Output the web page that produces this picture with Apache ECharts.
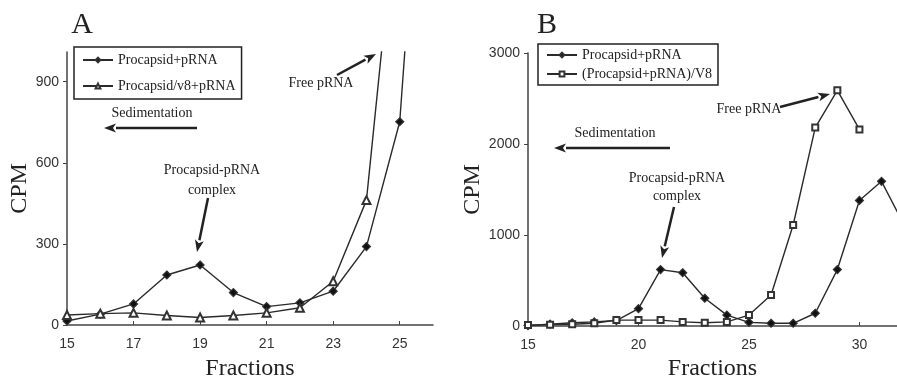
<!DOCTYPE html>
<html>
<head>
<meta charset="utf-8">
<script src="https://cdn.jsdelivr.net/npm/echarts@6/dist/echarts.min.js"></script>
<style>
  html, body { margin: 0; padding: 0; background: #fff; }
  #chart { width: 897px; height: 386px; }
</style>
</head>
<body>
<div id="chart"></div>
<script>
// panel A
const fractionsA = [15, 16, 17, 18, 19, 20, 21, 22, 23, 24, 25, 26];
const procapsidA = [15, 40, 78, 185, 222, 120, 68, 82, 125, 290, 752, 2450];
const v8A = [37, 42, 45, 35, 28, 35, 45, 64, 162, 462, 1675];
const xTicksA = [15, 17, 19, 21, 23, 25];
const yTicksA = [0, 300, 600, 900];

// panel B
const fractionsB = [15, 16, 17, 18, 19, 20, 21, 22, 23, 24, 25, 26, 27, 28, 29, 30, 31, 32];
const procapsidB = [5, 20, 35, 45, 60, 190, 620, 585, 305, 120, 40, 30, 30, 140, 620, 1380, 1590, 1120];
const v8B = [10, 15, 20, 30, 65, 65, 65, 45, 35, 45, 120, 340, 1110, 2180, 2590, 2160];
const xTicksB = [15, 20, 25, 30];
const yTicksB = [0, 1000, 2000, 3000];

const serif = '"Liberation Serif", "DejaVu Serif", serif';
const sans = '"Liberation Sans", Arial, sans-serif';
const ink = '#222';

const pairs = (xs, ys) => ys.map((y, i) => [xs[i], y]);

function arrow(x1, y1, x2, y2) {
  const a = Math.atan2(y2 - y1, x2 - x1);
  const len = 12, half = 4.5;
  const bx = x2 - len * Math.cos(a), by = y2 - len * Math.sin(a);
  const px = -Math.sin(a) * half, py = Math.cos(a) * half;
  return {
    type: 'group',
    children: [
      { type: 'line', shape: { x1: x1, y1: y1, x2: bx, y2: by }, style: { stroke: ink, lineWidth: 2.5 } },
      { type: 'polygon', shape: { points: [[x2, y2], [bx + px, by + py], [bx + 3 * Math.cos(a), by + 3 * Math.sin(a)], [bx - px, by - py]] }, style: { fill: ink } }
    ]
  };
}

function label(text, x, y, size) {
  return {
    type: 'text', x: x, y: y,
    style: { text: text, fill: ink, font: (size || 14) + 'px ' + serif, align: 'center', verticalAlign: 'middle' }
  };
}

function xAxisFor(idx, max, ticks, gap) {
  return {
    type: 'value', gridIndex: idx, min: 15, max: max,
    name: 'Fractions', nameLocation: 'middle', nameGap: gap,
    nameTextStyle: { fontFamily: serif, fontSize: 24, color: ink },
    axisLine: { lineStyle: { color: '#444', width: 1.5 } },
    axisTick: { inside: true, length: 4, customValues: ticks, lineStyle: { color: '#444' } },
    axisLabel: { customValues: ticks, margin: 12, fontFamily: sans, fontSize: 14, color: '#333', formatter: v => String(v) },
    splitLine: { show: false }
  };
}

function yAxisFor(idx, max, ticks, gap) {
  return {
    type: 'value', gridIndex: idx, min: 0, max: max,
    name: 'CPM', nameLocation: 'middle', nameGap: gap,
    nameTextStyle: { fontFamily: serif, fontSize: 24, color: ink },
    axisLine: { show: true, lineStyle: { color: '#444', width: 1.5 } },
    axisTick: { show: true, length: 4, customValues: ticks, lineStyle: { color: '#444' } },
    axisLabel: { customValues: ticks, margin: 8, fontFamily: sans, fontSize: 14, color: '#333', formatter: v => String(v) },
    splitLine: { show: false }
  };
}

function lineSeries(name, idx, data, symbol, size) {
  return {
    name: name, type: 'line', xAxisIndex: idx, yAxisIndex: idx,
    data: data, symbol: symbol, symbolSize: size, showSymbol: true,
    clip: true,
    lineStyle: { color: '#2a2a2a', width: 1.4 },
    itemStyle: { color: symbol.indexOf('empty') === 0 ? '#333' : '#111', borderColor: '#333', borderWidth: 1.2 },
    emphasis: { disabled: true }
  };
}

function legendFor(names, left, top, gap, pad) {
  return {
    data: names, orient: 'vertical', left: left, top: top,
    borderColor: ink, borderWidth: 1.5, padding: [pad, 6, pad, 8],
    itemGap: gap, itemWidth: 30, itemHeight: 6,
    textStyle: { fontFamily: serif, fontSize: 14, color: ink }
  };
}

const chart = echarts.init(document.getElementById('chart'));
chart.setOption({
  backgroundColor: '#fff',
  animation: false,
  grid: [
    { left: 67, top: 52, width: 366, height: 279 },
    { left: 528, top: 53, width: 369, height: 273 }
  ],
  xAxis: [xAxisFor(0, 26, xTicksA, 32), xAxisFor(1, 31.7, xTicksB, 30)],
  yAxis: [yAxisFor(0, 1010, yTicksA, 34), yAxisFor(1, 3000, yTicksB, 36)],
  legend: [
    legendFor(['Procapsid+pRNA', 'Procapsid/v8+pRNA'], 74, 47, 12, 6),
    legendFor(['Procapsid+pRNA ', '(Procapsid+pRNA)/V8'], 538, 44, 5, 4)
  ],
  series: [
    lineSeries('Procapsid+pRNA', 0, pairs(fractionsA, procapsidA), 'diamond', 8),
    lineSeries('Procapsid/v8+pRNA', 0, pairs(fractionsA, v8A), 'emptyTriangle', 8),
    lineSeries('Procapsid+pRNA ', 1, pairs(fractionsB, procapsidB), 'diamond', 8),
    lineSeries('(Procapsid+pRNA)/V8', 1, pairs(fractionsB, v8B), 'emptyRect', 6)
  ],
  graphic: [
    label('A', 82, 25, 30),
    label('B', 547, 25, 30),
    label('Sedimentation', 152, 113),
    arrow(197, 128, 104, 128),
    label('Procapsid-pRNA', 212, 170),
    label('complex', 212, 190),
    arrow(208, 198, 197, 252),
    label('Free pRNA', 321, 83),
    arrow(337, 75, 376, 54),
    label('Sedimentation', 615, 133),
    arrow(670, 148, 554, 148),
    label('Procapsid-pRNA', 677, 178),
    label('complex', 677, 196),
    arrow(674, 207, 662, 258),
    label('Free pRNA', 749, 109),
    arrow(780, 107, 830, 94)
  ]
});
</script>
</body>
</html>
